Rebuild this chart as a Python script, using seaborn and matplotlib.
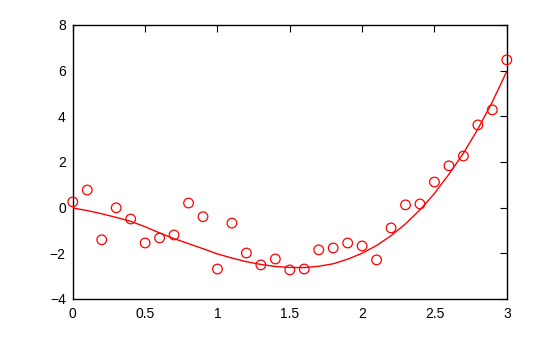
import matplotlib
matplotlib.use("Agg")
import matplotlib.pyplot as plt
import seaborn as sns
import pandas as pd

# observed points
x_vals = [0.0, 0.1, 0.2, 0.3, 0.4, 0.5, 0.6, 0.7, 0.8, 0.9, 1.0, 1.1, 1.2, 1.3, 1.4, 1.5,
          1.6, 1.7, 1.8, 1.9, 2.0, 2.1, 2.2, 2.3, 2.4, 2.5, 2.6, 2.7, 2.8, 2.9, 3.0]
y_vals = [0.25, 0.77, -1.41, -0.01, -0.50, -1.55, -1.33, -1.20, 0.20, -0.40, -2.69, -0.68,
          -1.99, -2.51, -2.25, -2.73, -2.69, -1.85, -1.77, -1.55, -1.68, -2.29, -0.89, 0.12,
          0.16, 1.12, 1.83, 2.26, 3.62, 4.28, 6.47]
# fitted curve
curve_x = [0.0, 0.1, 0.2, 0.3, 0.4, 0.5, 0.6, 0.7, 0.8, 0.9, 1.0, 1.1, 1.2, 1.3, 1.4, 1.5,
           1.6, 1.7, 1.8, 1.9, 2.0, 2.1, 2.2, 2.3, 2.4, 2.5, 2.6, 2.7, 2.8, 2.9, 3.0]
curve_y = [-0.02, -0.13, -0.27, -0.43, -0.60, -0.84, -1.11, -1.36, -1.58, -1.80, -2.03,
           -2.21, -2.37, -2.49, -2.58, -2.62, -2.63, -2.57, -2.46, -2.26, -2.00, -1.66,
           -1.23, -0.71, -0.10, 0.62, 1.46, 2.38, 3.44, 4.63, 5.97]
x_ticks = [0, 0.5, 1, 1.5, 2, 2.5, 3]
x_tick_labels = ["0", "0.5", "1", "1.5", "2", "2.5", "3"]
y_ticks = [-4, -2, 0, 2, 4, 6, 8]

df = pd.DataFrame({"x": x_vals, "y": y_vals})
dc = pd.DataFrame({"x": curve_x, "y": curve_y})

sns.set_style("white")
plt.rcParams['font.family'] = ['Liberation Sans', 'DejaVu Sans']

fig = plt.figure(figsize=(5.6, 3.37), dpi=100)
ax = fig.add_axes([0.130, 0.113, 0.775, 0.813])

sns.lineplot(data=dc, x="x", y="y", color="red", lw=1, ax=ax, sort=False)
sns.scatterplot(data=df, x="x", y="y", ax=ax, s=48, facecolors="none",
                edgecolor="red", linewidth=0.9, clip_on=False, zorder=3)

ax.set_xlim(0, 3)
ax.set_ylim(-4, 8)
ax.set_xticks(x_ticks)
ax.set_xticklabels(x_tick_labels)
ax.set_yticks(y_ticks)
ax.set_xlabel("")
ax.set_ylabel("")
ax.tick_params(direction="in", length=5, width=0.8, top=True, right=True,
               labelsize=10, colors="black", pad=5)
ax.tick_params(axis="x", pad=6)
for s in ax.spines.values():
    s.set_visible(True)
    s.set_color("black")
    s.set_linewidth(1)

fig.savefig("out.png", dpi=100)
